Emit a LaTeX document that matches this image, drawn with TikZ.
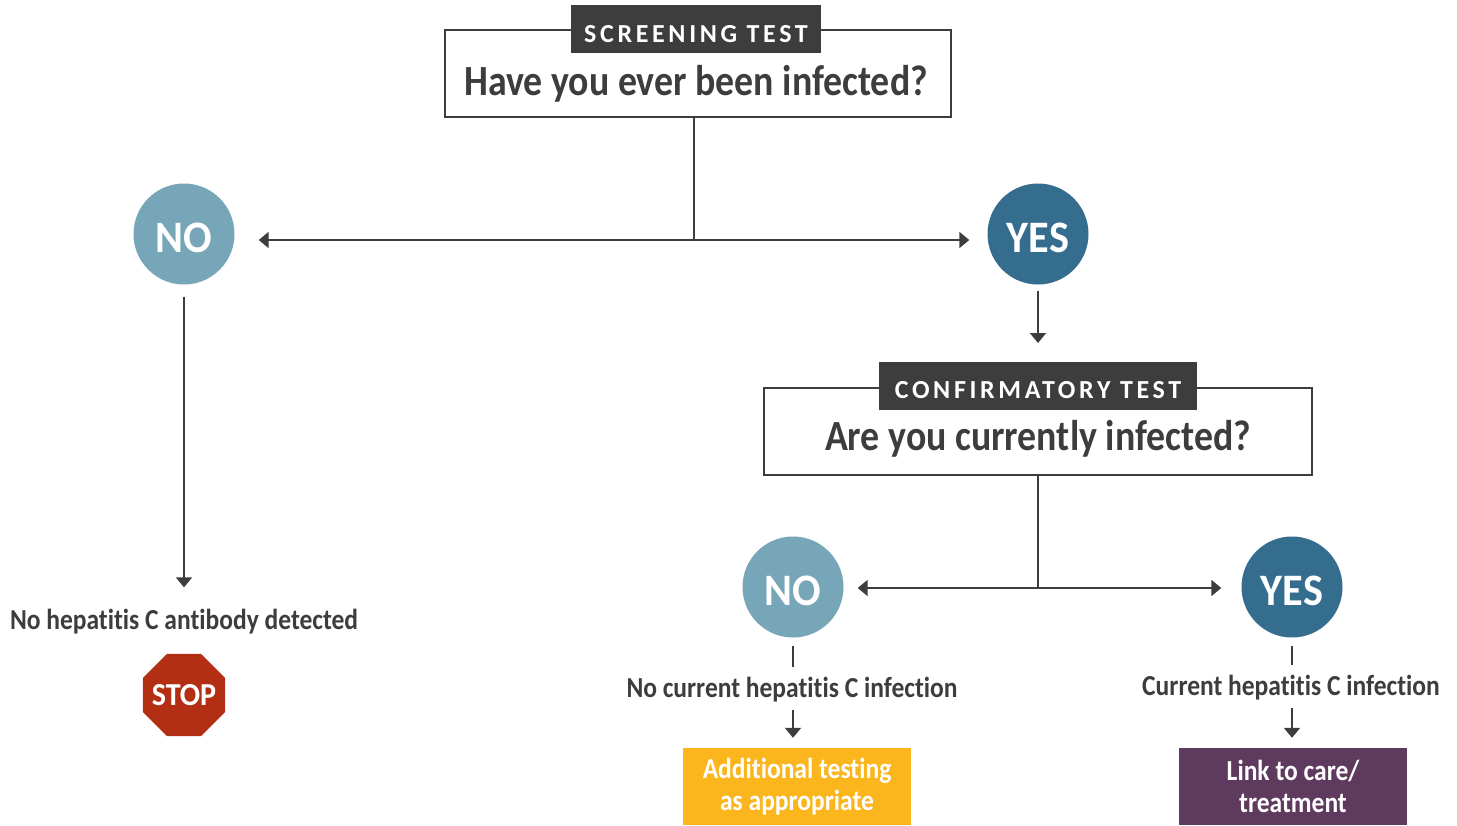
\documentclass[tikz,border=0pt]{standalone}
\usepackage{fontspec}
\setmainfont{Carlito}[Ligatures=NoCommon]
\newfontfamily\cond{Carlito}[FakeStretch=0.88,Ligatures=NoCommon]
\newfontfamily\condb{Carlito}[FakeStretch=0.94,Ligatures=NoCommon]
\newfontfamily\spaced{Carlito}[LetterSpace=14,Ligatures=NoCommon]
\usetikzlibrary{shapes.geometric,arrows.meta}
\definecolor{ink}{HTML}{3D3D3D}
\definecolor{tagbg}{HTML}{3D3D3D}
\definecolor{nocol}{HTML}{77A6B8}
\definecolor{yescol}{HTML}{356D8F}
\definecolor{stopcol}{HTML}{B22F14}
\definecolor{orangecol}{HTML}{FBB51D}
\definecolor{purplecol}{HTML}{5E3A5F}
\tikzset{
  qbox/.style={draw=ink, line width=1.2pt, fill=white, minimum height=87pt, inner sep=0pt},
  tag/.style={fill=tagbg, text=white, minimum height=48pt, inner sep=0pt, text height=26pt, text depth=0pt, font=\spaced\bfseries\fontsize{26}{26}\selectfont},
  qtext/.style={text=ink, font=\cond\bfseries\fontsize{43}{43}\selectfont, inner sep=0pt},
  ans/.style={circle, minimum size=101pt, inner sep=0pt, text=white, text height=37pt, text depth=0pt, font=\condb\bfseries\fontsize{45}{45}\selectfont},
  res/.style={text=ink, font=\cond\bfseries\fontsize{29}{29}\selectfont, inner sep=2pt},
  act/.style={minimum width=228pt, minimum height=77pt, inner sep=0pt, text=white, align=center, font=\cond\bfseries\fontsize{29}{32}\selectfont},
  conn/.style={draw=ink, line width=2pt},
  arr/.style={conn, -{Triangle[width=16pt,length=10pt]}},
  stopsign/.style={regular polygon, regular polygon sides=8, minimum size=89pt, inner sep=0pt, fill=stopcol},
  stoptext/.style={text=white, inner sep=0pt, font=\condb\bfseries\fontsize{32}{32}\selectfont},
}
\begin{document}
\begin{tikzpicture}[x=1pt,y=-1pt]
\useasboundingbox (0,0) rectangle (1457,825);
\fill[white] (0,0) rectangle (1457,825);

% screening
\node[qbox, minimum width=506pt] (s1) at (698,73.5) {};
\node[tag, minimum width=250pt] (t1) at (696,29) {SCREENING TEST};
\node[qtext] (q1) at (696,83.5) {Have you ever been infected?};
\coordinate (j1) at (694,240);

\node[ans, fill=nocol] (no1) at (184,234) {NO};
\node[ans, fill=yescol] (yes1) at (1038,234) {YES};

\draw[conn] (s1.south -| j1) -- (j1);
\draw[arr, shorten >=24pt] (j1) -- (no1.east |- j1);
\draw[arr, shorten >=18pt] (j1) -- (yes1.west |- j1);

% left branch
\node[res] (r0) at (184,622) {No hepatitis C antibody detected};
\draw[arr, shorten <=12pt, shorten >=20pt] (no1.south) -- (r0.north);
\node[stopsign] (stop) at (184,695) {};
\node[stoptext] (stoplbl) at (stop.center) {STOP};

% confirmatory
\draw[arr, shorten <=6pt, shorten >=18pt] (yes1.south) -- (yes1.south |- 0,361);
\node[qbox, minimum width=548pt] (s2) at (1038,431.5) {};
\node[tag, minimum width=318pt] (t2) at (1038,385.5) {CONFIRMATORY TEST};
\node[qtext] (q2) at (1038,438.5) {Are you currently infected?};
\coordinate (j2) at (1038,588);

\node[ans, fill=nocol] (no2) at (793,587) {NO};
\node[ans, fill=yescol] (yes2) at (1292,587) {YES};

\draw[conn] (s2.south) -- (j2);
\draw[arr, shorten >=14pt] (j2) -- (no2.east |- j2);
\draw[arr, shorten >=20pt] (j2) -- (yes2.west |- j2);

% bottom left
\node[res] (r1) at (792,690) {No current hepatitis C infection};
\node[act, fill=orangecol] (a1) at (797,786.5) {Additional testing\\as appropriate};
\draw[conn, shorten <=8pt, shorten >=8pt] (no2.south) -- (no2.south |- r1.north);
\draw[arr, shorten <=5pt, shorten >=10pt] (r1.south -| no2) -- (no2 |- a1.north);

% bottom right
\node[res] (r2) at (1291,688) {Current hepatitis C infection};
\node[act, fill=purplecol] (a2) at (1293,786.5) {Link to care/\\treatment};
\draw[conn, shorten <=8pt, shorten >=8pt] (yes2.south) -- (yes2.south |- r2.north);
\draw[arr, shorten <=5pt, shorten >=10pt] (r2.south -| yes2) -- (yes2 |- a2.north);
\end{tikzpicture}
\end{document}
